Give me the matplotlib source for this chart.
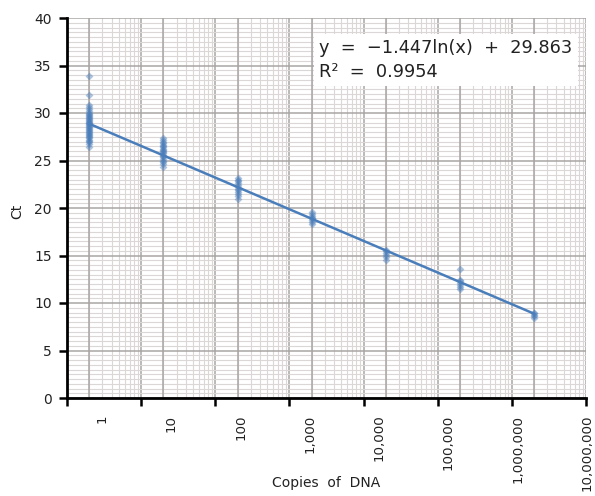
import numpy as np
import matplotlib.pyplot as plt
from matplotlib.transforms import ScaledTranslation
from matplotlib.ticker import FixedLocator, NullFormatter

plt.rcParams['font.family'] = ['DejaVu Sans']

# copies of DNA per standard and the Ct values read for each
copies = [2, 20, 200, 2000, 20000, 200000, 2000000]
ct_values = [
    [26.4, 26.7, 26.9, 27.1, 27.2, 27.4, 27.5, 27.6, 27.7, 27.8, 27.9, 28.0, 28.1,
     28.2, 28.3, 28.4, 28.5, 28.6, 28.7, 28.8, 28.9, 29.0, 29.1, 29.2, 29.3, 29.4,
     29.5, 29.6, 29.7, 29.8, 29.9, 30.0, 30.2, 30.4, 30.6, 30.8, 31.9, 33.9],
    [24.3, 24.6, 24.8, 25.0, 25.2, 25.4, 25.5, 25.6, 25.8, 25.9, 26.0, 26.1, 26.2,
     26.4, 26.5, 26.6, 26.8, 27.0, 27.2, 27.4],
    [21.0, 21.3, 21.5, 21.7, 21.9, 22.0, 22.2, 22.4, 22.6, 22.8, 23.0, 23.2],
    [18.3, 18.5, 18.7, 18.9, 19.0, 19.2, 19.4, 19.6],
    [14.5, 14.8, 15.1, 15.3, 15.5, 15.6],
    [11.5, 11.7, 11.9, 12.1, 12.3, 12.4, 13.6],
    [8.4, 8.6, 8.7, 8.9, 9.0],
]
slope, intercept, r2 = -1.447, 29.863, 0.9954
tick_values = [1, 10, 100, 1000, 10000, 100000, 1000000, 10000000]
tick_labels = ['1', '10', '100', '1,000', '10,000', '100,000', '1,000,000', '10,000,000']

blue = '#4a7ebb'

fig = plt.figure(figsize=(5.95, 4.96), dpi=100)
ax = fig.add_axes([67/595, 1-398/496, 519/595, 380/496])

xs = np.concatenate([[c]*len(v) for c, v in zip(copies, ct_values)])
ys = np.concatenate(ct_values)
ax.scatter(xs, ys, marker='D', s=16, color=blue, alpha=0.45, linewidths=0, zorder=3)

xline = np.logspace(np.log10(copies[0]), np.log10(copies[-1]), 50)
ax.plot(xline, slope*np.log(xline) + intercept, color=blue, lw=1.8, zorder=4)

ax.set_xscale('log')
ax.set_xlim(1, 10000000)
ax.set_ylim(0, 40)

ax.set_xticks(tick_values)
ax.set_xticklabels(tick_labels, rotation=90, va='top', ha='center')
minors = [m*10**k for k in range(7) for m in range(2, 10)]
ax.xaxis.set_minor_locator(FixedLocator(minors))
ax.xaxis.set_minor_formatter(NullFormatter())
ax.set_yticks(np.arange(0, 41, 5))
ax.set_yticks(np.arange(0, 40.1, 0.5), minor=True)

ax.grid(which='minor', color='#dcd7d7', lw=0.8)
ax.grid(which='major', color='#aaa5a5', lw=1.1)
for c in copies:
    ax.axvline(c, color='#aaa5a5', lw=1.1, zorder=1)
ax.set_axisbelow(True)

ax.tick_params(which='minor', length=0)
ax.tick_params(which='major', length=6, width=1.8, direction='out', labelsize=10,
               colors='black', labelcolor='#222222')
ax.tick_params(axis='x', pad=6, labelsize=9.6)
ax.tick_params(axis='y', pad=5)
for s in ['top', 'right']:
    ax.spines[s].set_visible(False)
for s in ['left', 'bottom']:
    ax.spines[s].set_linewidth(2)

# the labels in the original drift from their ticks
for i, lbl in enumerate(ax.get_xticklabels()):
    dx = (35 - 4.85*i) / 100
    lbl.set_transform(lbl.get_transform() + ScaledTranslation(dx, 0, fig.dpi_scale_trans))

ax.set_xlabel('Copies  of  DNA', fontsize=10, color='#222222')
ax.xaxis.set_label_coords(0.5, -0.205)
ax.set_ylabel('Ct', fontsize=10, color='#222222')
ax.yaxis.set_label_coords(-0.083, 0.49)

eq = 'y  =  \u22121.447ln(x)  +  29.863\nR\u00b2  =  0.9954'
ax.text(0.486, 0.944, eq, transform=ax.transAxes, fontsize=12.8, va='top', ha='left',
        linespacing=1.4, zorder=6, color='#222222',
        bbox=dict(facecolor='white', edgecolor='none', pad=4))

fig.savefig('out.png', dpi=100)
